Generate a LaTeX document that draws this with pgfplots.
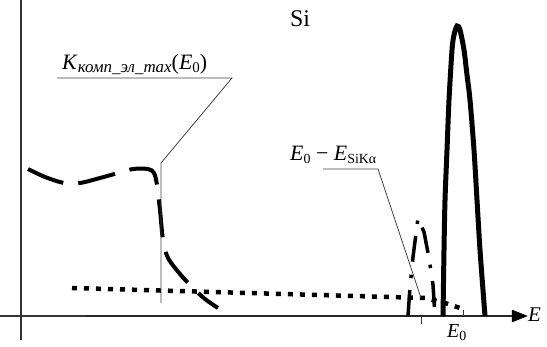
\documentclass[border=0pt]{standalone}
\usepackage{fontspec}
\setmainfont{Liberation Serif}
\usepackage{pgfplots}
\pgfplotsset{compat=1.18}
\newcommand\fs[1]{\fontsize{#1}{#1}\selectfont}
\newcommand\lsub[2]{\raisebox{-3bp}{\fs{#1}#2}}
\begin{document}
\begin{tikzpicture}
\begin{axis}[
  width=547bp, height=347bp, scale only axis,
  xmin=0, xmax=547, ymin=0, ymax=347, y dir=reverse,
  hide axis, clip=false]
\coordinate (bl) at (axis cs:0,347);
\coordinate (tr) at (axis cs:547,0);
% axes
\addplot[black!80, line width=1.2bp] coordinates {(0,316) (86,316)};
\addplot[black!85, line width=1.8bp] coordinates {(86,316) (515,316)};
\addplot[black, fill=black, line width=0.5bp] coordinates {(512,310) (527,316) (512,322) (512,310)};
\addplot[black!80, line width=1.8bp] coordinates {(21,0) (21,340)};
% ticks
\addplot[black!80, line width=1bp] coordinates {(421,316) (421,324)};
\addplot[black!80, line width=1bp] coordinates {(463,310) (463,316)};
% dashed curve K_comp
\addplot[black, line width=4bp, dash pattern=on 38bp off 15bp, smooth, tension=0.5] coordinates {
 (28,169) (45,177) (64,183) (80,183) (100,178) (118,173) (133,169) (148,169) (154,173) (157,185)
 (160,210) (163,240) (168,258) (180,274) (192,287) (205,299) (218,308)};
% dotted line
\addplot[black, line width=4.5bp, dash pattern=on 5bp off 7bp] coordinates {
 (72,288) (425,298) (445,303) (466,310)};
% dash-dot escape peak
\addplot[black, line width=3.5bp, dash pattern=on 26bp off 12bp on 3.5bp off 13bp] coordinates {
 (408,316) (410,287) (413,257) (418,218) (424,232) (429,258) (433,285) (435,316)};
% main Si peak
\addplot[black, line width=5bp, smooth, tension=0.5] coordinates {
 (443,316) (444,250) (445,200) (447,150) (449,100) (452,50) (454,35) (457,26)
 (460,30) (464,50) (467,75) (470,100) (474,150) (477,200) (480,250) (485,316)};
% leader lines
\addplot[black!75, line width=0.8bp] coordinates {(57,78) (232,78) (161,163) (161,303)};
\addplot[black!75, line width=0.8bp] coordinates {(323,169) (378,169) (421,298)};
% labels
\node[anchor=base west, inner sep=0pt] at (axis cs:290,27) {\fs{24}Si};
\node[anchor=base west, inner sep=0pt] at (axis cs:62,69) {\fs{22}\textit{K}\lsub{17}{\textit{комп\_эл\_max}}(\textit{E}\lsub{15}{0})};
\node[anchor=base west, inner sep=0pt] at (axis cs:290,160) {\fs{22}\textit{E}\lsub{14}{0} − \textit{E}\lsub{14}{SiKα}};
\node[anchor=base west, inner sep=0pt] at (axis cs:528,321) {\fs{21}\textit{E}};
\node[anchor=base west, inner sep=0pt] at (axis cs:447,337) {\fs{20}\textit{E}\lsub{14}{0}};
\end{axis}
\pgfresetboundingbox
\path (bl) rectangle (tr);
\end{tikzpicture}
\end{document}
